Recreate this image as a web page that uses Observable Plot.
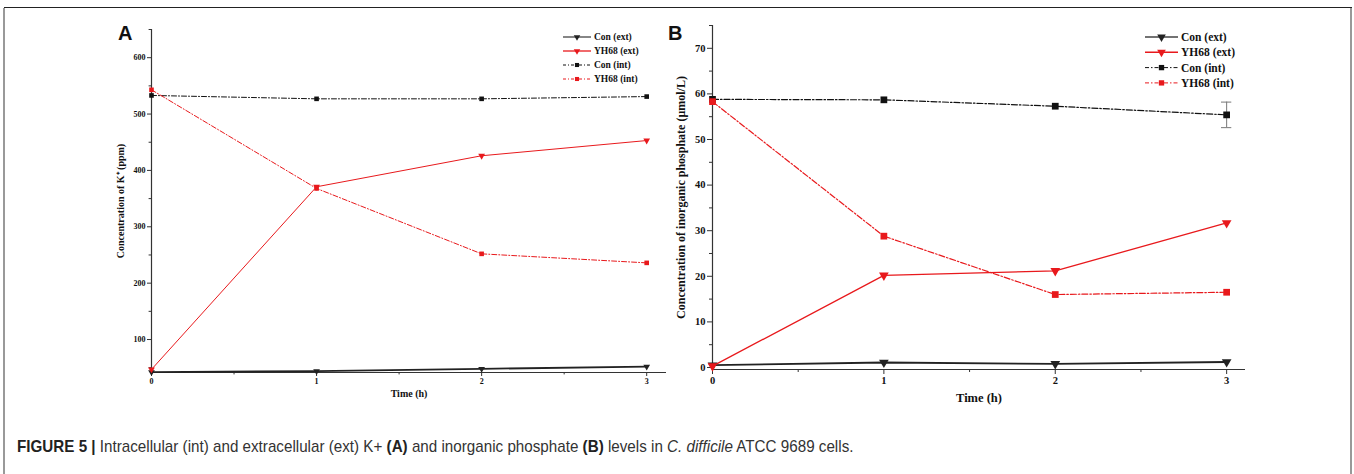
<!DOCTYPE html>
<html><head><meta charset="utf-8">
<script src="https://cdn.jsdelivr.net/npm/d3@7"></script>
<script src="https://cdn.jsdelivr.net/npm/@observablehq/plot@0.6"></script>
<style>
body{margin:0;background:#fff;}
#fig{position:relative;width:1354px;height:474px;overflow:hidden;background:#fff;}
.plot{position:absolute;top:0;}
.frameTop{position:absolute;left:4px;top:7px;width:1348px;height:0;border-top:1.5px solid #222;}
.frameL{position:absolute;left:3px;top:8px;width:2px;height:470px;background:#999;}
.frameR{position:absolute;left:1350px;top:8px;width:2px;height:470px;background:#999;}
.letter{position:absolute;font-family:"Liberation Sans",Arial,sans-serif;font-weight:bold;font-size:20px;color:#111;}
.legend{position:absolute;top:0;}
#caption{position:absolute;left:17px;top:437px;font-family:"Liberation Sans Narrow","Arial Narrow","Liberation Sans",sans-serif;font-size:17px;color:#333;white-space:nowrap;transform:scaleX(0.894);transform-origin:0 0;}
#caption b{color:#222;}
</style></head><body>
<div id="fig">
  <div class="frameTop"></div><div class="frameL"></div><div class="frameR"></div>
  <div id="plotA" class="plot" style="left:0"></div>
  <div id="plotB" class="plot" style="left:680px"></div>
  <div class="letter" style="left:118px;top:22px">A</div>
  <div class="letter" style="left:668px;top:22px">B</div>
  <div id="caption"><b>FIGURE 5 |</b> Intracellular (int) and extracellular (ext) K+ <b>(A)</b> and inorganic phosphate <b>(B)</b> levels in <i>C. difficile</i> ATCC 9689 cells.</div>
</div>
<script>
// ---------- data ----------
const timeH = [0, 1, 2, 3];
const seriesNames = ["Con (ext)", "YH68 (ext)", "Con (int)", "YH68 (int)"];
// Panel A: K+ (ppm)
const kConExt = [42, 44, 48, 52];
const kYhExt  = [47, 371, 426, 453];
const kConInt = [533, 527, 527, 531];
const kYhInt  = [543, 368, 252, 236];
// Panel B: inorganic phosphate (µmol/L)
const piConExt = [0.5, 1.1, 0.8, 1.2];
const piYhExt  = [0.3, 20.2, 21.2, 31.7];
const piConInt = [58.8, 58.7, 57.3, 55.4];
const piYhInt  = [58.3, 28.8, 16.0, 16.5];
const piConIntErr = [0, 0, 0, 2.8];
// axes
const aYDomain = [41.5, 650];
const aYMajor = [100, 200, 300, 400, 500, 600];
const aYMinor = [50, 150, 250, 350, 450, 550, 650];
const aXDomain = [0, 3.12];
const bYDomain = [-0.44, 75];
const bYMajor = [0, 10, 20, 30, 40, 50, 60, 70];
const bYMinor = [5, 15, 25, 35, 45, 55, 65, 75];
const bXDomain = [0, 3.11];
const xMajor = [0, 1, 2, 3];
const xMinor = [0.5, 1.5, 2.5];

// ---------- styles ----------
const seriesStyle = {
  "Con (ext)":  {color: "#222", dash: null, symbol: "triangle", rot: 180},
  "YH68 (ext)": {color: "#e8191c", dash: null, symbol: "triangle", rot: 180},
  "Con (int)":  {color: "#111", dash: "dashdot", symbol: "square", rot: 0},
  "YH68 (int)": {color: "#e8191c", dash: "dashdot", symbol: "square", rot: 0}
};

function rows(vals) {
  return seriesNames.map((s, i) => timeH.map((t, j) => ({series: s, t, v: vals[i][j]})));
}

function seriesMarks(groups, p) {
  const marks = [];
  groups.forEach(g => {
    const st = seriesStyle[g[0].series];
    marks.push(Plot.line(g, {x: "t", y: "v", stroke: st.color,
      strokeWidth: st.dash ? p.lwInt : (g[0].series.startsWith("Con") ? p.lwConExt : p.lwExt),
      strokeDasharray: st.dash ? p.dash : null}));
  });
  groups.forEach(g => {
    const st = seriesStyle[g[0].series];
    marks.push(Plot.dot(g, {x: "t", y: "v", symbol: st.symbol, fill: st.color, stroke: "none",
      r: st.symbol === "square" ? p.rSq : p.rTri, rotate: st.rot}));
  });
  return marks;
}

function axisMarks(p) {
  return [
    Plot.ruleX([p.xDomain[0]], {stroke: "#333", strokeWidth: 1.2}),
    Plot.ruleY([p.yDomain[0]], {stroke: "#333", strokeWidth: 1.2}),
    Plot.axisX({ticks: xMajor, tickSize: p.tick, tickPadding: 2, tickFormat: d => d, label: null, fontSize: p.fs, stroke: "#333", fill: "#111"}),
    Plot.axisX({ticks: xMinor, tickSize: p.tick * 0.6, tickFormat: () => "", label: null, stroke: "#333"}),
    Plot.axisY({ticks: p.yMajor, tickSize: p.tick, tickPadding: 2, tickFormat: d => d, label: null, fontSize: p.fs, stroke: "#333", fill: "#111"}),
    Plot.axisY({ticks: p.yMinor, tickSize: p.tick * 0.6, tickFormat: () => "", label: null, stroke: "#333"}),
    Plot.text([p.yLabel], {frameAnchor: "left", dx: p.yLabelDx, rotate: -90, text: d => d, fontSize: p.lfs, fill: "#111", textAnchor: "middle", lineAnchor: "middle"}),
    Plot.text(["Time (h)"], {frameAnchor: "bottom", dy: p.xLabelDy, text: d => d, fontSize: p.xlfs, fill: "#111", textAnchor: "middle", lineAnchor: "middle"})
  ];
}

const fontStyle = {fontFamily: "'Liberation Serif','Times New Roman',serif", fontWeight: "bold", background: "transparent", overflow: "visible"};

// ---------- Panel A ----------
const pA = {xDomain: aXDomain, yDomain: aYDomain, yMajor: aYMajor, yMinor: aYMinor, tick: 4, fs: 8,
  yLabel: "Concentration of K\u207A (ppm)", yLabelDx: -31, lfs: 10, xLabelDy: 21, xlfs: 10,
  lwExt: 1, lwConExt: 1.8, lwInt: 1, dash: "5,2,1,2", rSq: 2.6, rTri: 2.5};
const groupsA = rows([kConExt, kYhExt, kConInt, kYhInt]);
const plotA = Plot.plot({
  width: 680, height: 420, marginLeft: 151, marginRight: 14, marginTop: 29, marginBottom: 48,
  x: {domain: aXDomain}, y: {domain: aYDomain},
  style: fontStyle,
  marks: [...axisMarks(pA), ...seriesMarks(groupsA, pA)]
});
document.getElementById("plotA").append(plotA);

// ---------- Panel B ----------
const pB = {xDomain: bXDomain, yDomain: bYDomain, yMajor: bYMajor, yMinor: bYMinor, tick: 5, fs: 10.5,
  yLabel: "Concentration of inorganic phosphate (\u03BCmol/L)", yLabelDx: -31, lfs: 12, xLabelDy: 28, xlfs: 12.5,
  lwExt: 1.3, lwConExt: 1.8, lwInt: 1.2, dash: "6,2,1.5,2", rSq: 3.8, rTri: 3.6};
const groupsB = rows([piConExt, piYhExt, piConInt, piYhInt]);
const errRows = timeH.map((t, j) => ({t, v: piConInt[j], e: piConIntErr[j]})).filter(d => d.e > 0);
const capHalf = 0.03;
const plotB = Plot.plot({
  width: 674, height: 420, marginLeft: 32, marginRight: 109, marginTop: 25, marginBottom: 51,
  x: {domain: bXDomain}, y: {domain: bYDomain},
  style: fontStyle,
  marks: [
    ...axisMarks(pB),
    Plot.ruleX(errRows, {x: "t", y1: d => d.v - d.e, y2: d => d.v + d.e, stroke: "#777", strokeWidth: 1}),
    Plot.ruleY(errRows, {y: d => d.v - d.e, x1: d => d.t - capHalf, x2: d => d.t + capHalf, stroke: "#777", strokeWidth: 1}),
    Plot.ruleY(errRows, {y: d => d.v + d.e, x1: d => d.t - capHalf, x2: d => d.t + capHalf, stroke: "#777", strokeWidth: 1}),
    ...seriesMarks(groupsB, pB)
  ]
});
document.getElementById("plotB").append(plotB);

// ---------- Legends ----------
function legend(left, top, rowH, lineW, fs, rTri, rSq, dash, lw) {
  const svg = d3.select("#fig").append("svg").attr("class", "legend")
    .style("left", left + "px").style("top", top + "px")
    .attr("width", 140).attr("height", rowH * 4 + 10);
  seriesNames.forEach((s, i) => {
    const st = seriesStyle[s];
    const y = 6 + i * rowH;
    const g = svg.append("g").attr("transform", `translate(0,${y})`);
    g.append("line").attr("x1", 0).attr("x2", lineW).attr("y1", 0).attr("y2", 0)
      .attr("stroke", i === 0 ? "#444" : st.color).attr("stroke-width", st.dash ? 1 : lw)
      .attr("stroke-dasharray", st.dash ? dash : null);
    const sym = d3.symbol().type(st.symbol === "square" ? d3.symbolSquare : d3.symbolTriangle)
      .size(Math.PI * (st.symbol === "square" ? rSq : rTri) ** 2);
    g.append("path").attr("d", sym()).attr("transform", `translate(${lineW / 2},0) rotate(${st.rot})`).attr("fill", st.color);
    g.append("text").attr("x", lineW + 3).attr("y", 0).attr("dy", "0.35em")
      .attr("font-family", "'Liberation Serif','Times New Roman',serif").attr("font-weight", "bold")
      .attr("font-size", fs).attr("fill", "#111").text(s);
  });
}
legend(563, 31, 14, 28, 9.5, 2.4, 2.3, "3,2,1,2", 1.3);
legend(1145, 31, 15.3, 33, 11.5, 3.2, 3, "4,2,1.5,2", 1.5);
</script>
</body></html>
